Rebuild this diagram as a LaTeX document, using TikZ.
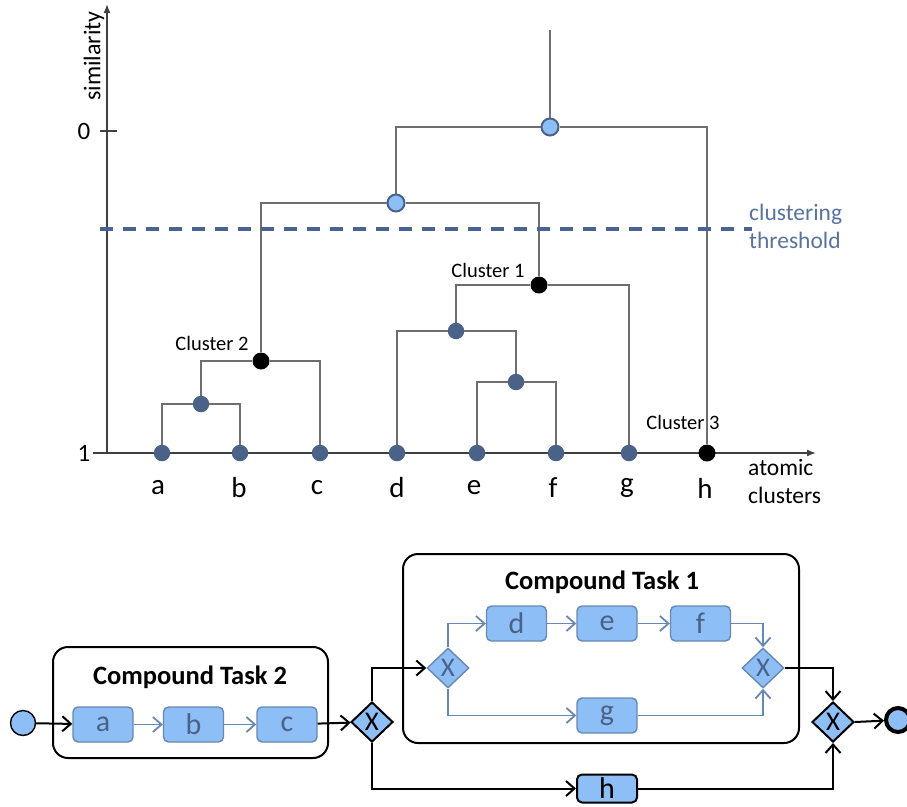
\documentclass[tikz,border=0pt]{standalone}
\usepackage{fontspec}
\setmainfont{Carlito}
\usetikzlibrary{arrows.meta,shapes.geometric}
\definecolor{nodeblue}{HTML}{4A6287}
\definecolor{lightblue}{HTML}{8DBEF5}
\definecolor{thrblue}{HTML}{4A6390}
\definecolor{thrtext}{HTML}{5873A0}
\definecolor{lgray}{HTML}{6E6E6E}
\definecolor{flowblue}{HTML}{6888B4}
\definecolor{tasktext}{HTML}{4A6287}
\newcommand\fsz[2]{\fontsize{#1pt}{#2pt}\selectfont}
\tikzset{
  leaf/.style={circle,fill=nodeblue,inner sep=0pt,minimum size=16.5pt},
  lbnode/.style={circle,fill=lightblue,draw=nodeblue,line width=2pt,inner sep=0pt,minimum size=17pt},
  blknode/.style={circle,fill=black,inner sep=0pt,minimum size=17pt},
  dline/.style={draw=lgray,line width=1.4pt},
  axisline/.style={draw=black!75,line width=1.4pt},
  lbl/.style={font=\fsz{29}{32},inner sep=0pt},
  clbl/.style={font=\fsz{20.5}{24},inner sep=0pt},
  thrlbl/.style={font=\fsz{23.5}{28},text=thrtext,align=left,inner sep=0pt},
  compound/.style={draw=black,line width=2pt,rounded corners=15pt},
  ctitle/.style={font=\bfseries\fsz{26.5}{30},inner sep=0pt},
  task/.style={rectangle,rounded corners=5pt,fill=lightblue,draw=flowblue,line width=1.4pt,minimum width=60pt,minimum height=35pt,inner sep=0pt,font=\fsz{30}{32},text=tasktext},
  btask/.style={task,draw=black,line width=2pt,text=black},
  gwblack/.style={diamond,fill=lightblue,draw=black,line width=2pt,minimum width=42pt,minimum height=40pt,inner sep=0pt,font=\fsz{27}{28}},
  gwblue/.style={gwblack,draw=flowblue,line width=1.4pt,text=tasktext},
  blackflow/.style={draw=black,line width=2pt,-{Straight Barb[length=8.5pt,width=15pt,line width=2pt]}},
  blueflow/.style={draw=flowblue,line width=1.6pt,-{Straight Barb[length=8.5pt,width=15pt,line width=1.8pt]}},
}
\begin{document}
\begin{tikzpicture}[x=1pt,y=-1pt]
\useasboundingbox (0,0) rectangle (907,806);
% ---------- dendrogram ----------
% axes
\draw[axisline,-{Latex[length=9pt,width=7pt]}] (107,453) -- (107,4);
\draw[axisline,-{Latex[length=9pt,width=7pt]}] (93,453) -- (816,453);
\draw[axisline] (100,131) -- (117,131);
\node[font=\fsz{25}{28},inner sep=0pt] (lzero) at (84,131) {0};
\node[font=\fsz{25}{28},inner sep=0pt] (lone) at (84,453) {1};
\node[font=\fsz{24}{28},inner sep=0pt,rotate=90] (simlbl) at (94,56) {similarity};
% leaves
\node[leaf] (a) at (162,453) {};
\node[leaf] (b) at (240,453) {};
\node[leaf] (c) at (320,453) {};
\node[leaf] (d) at (397,453) {};
\node[leaf] (e) at (477,453) {};
\node[leaf] (f) at (556,453) {};
\node[leaf] (g) at (629,453) {};
\node[blknode] (h) at (707,453) {};
% internal nodes
\node[leaf] (ab) at (201,404) {};
\node[blknode] (c2) at (261,361) {};
\node[leaf] (ef) at (516,382) {};
\node[leaf] (def) at (456,331) {};
\node[blknode] (c1) at (539,285) {};
\node[lbnode] (lb2) at (396,203) {};
\node[lbnode] (lb1) at (550,127) {};
\coordinate (top) at (550,30);
% cluster labels
\node[clbl] (cl2) at (212,343) {Cluster 2};
\node[clbl] (cl1) at (488,270) {Cluster 1};
\node[clbl] (cl3) at (683,422) {Cluster 3};
% links
\draw[dline] (ab) -| (a);
\draw[dline] (ab) -| (b);
\draw[dline] (c2) -| (ab);
\draw[dline] (c2) -| (c);
\draw[dline] (ef) -| (e);
\draw[dline] (ef) -| (f);
\draw[dline] (def) -| (d);
\draw[dline] (def) -| (ef);
\draw[dline] (c1) -| (def);
\draw[dline] (c1) -| (g);
\draw[dline] (c2) |- (lb2);
\draw[dline] (lb2) -| (c1);
\draw[dline] (lb1) -| (lb2);
\draw[dline] (lb1) -| (h);
\draw[dline] (lb1) -- (top);
% threshold
\draw[draw=thrblue,line width=3.2pt,dash pattern=on 13pt off 10pt] (100,229) -- (752,229);
\node[thrlbl,anchor=west] (thr) at (749,226) {clustering\\threshold};
% leaf labels
\node[lbl] (la) at (158,488) {a};
\node[lbl] (lb) at (239,488) {b};
\node[lbl] (lc) at (317,488) {c};
\node[lbl] (ld) at (397,488) {d};
\node[lbl] (le) at (474,488) {e};
\node[lbl] (lf) at (553,488) {f};
\node[lbl] (lg) at (627,488) {g};
\node[lbl] (lh) at (705,488) {h};
\node[thrlbl,text=black,anchor=west] (atom) at (748,481) {atomic\\clusters};
% ---------- process ----------
\draw[compound] (53,647) rectangle (328,758);
\node[ctitle] (ct2) at (190,677) {Compound Task 2};
\draw[compound] (403,554) rectangle (799,743);
\node[ctitle] (ct1) at (602,582) {Compound Task 1};
\node[circle,fill=lightblue,draw=black,line width=1.4pt,minimum size=25pt,inner sep=0pt] (start) at (23,723) {};
\node[task] (ta) at (103,724.5) {a};
\node[task] (tb) at (193.5,724.5) {b};
\node[task] (tc) at (287,724.5) {c};
\node[task] (td) at (516.5,623.5) {d};
\node[task] (te) at (607,623.5) {e};
\node[task] (tf) at (700.5,623.5) {f};
\node[task] (tg) at (607,715.5) {g};
\node[btask,minimum height=28pt] (th) at (607,788.5) {h};
\node[gwblack] (gw1) at (372,722) {X};
\node[gwblue] (gw2) at (448,668) {X};
\node[gwblue] (gw3) at (763,668) {X};
\node[gwblack] (gw4) at (833,722) {X};
\node[circle,fill=lightblue,draw=black,line width=4pt,minimum size=24pt,inner sep=0pt] (end) at (898,720) {};
\draw[blackflow] (start) -- (ta);
\draw[blueflow] (ta) -- (tb);
\draw[blueflow] (tb) -- (tc);
\draw[blackflow] (tc) -- (gw1);
\draw[blackflow] (gw1.north) |- (gw2.west);
\draw[blackflow] (gw1.south) |- (th.west);
\draw[blueflow] (gw2.north) |- (td.west);
\draw[blueflow] (gw2.south) |- (tg.west);
\draw[blueflow] (td) -- (te);
\draw[blueflow] (te) -- (tf);
\draw[blueflow] (tf.east) -| (gw3.north);
\draw[blueflow] (tg.east) -| (gw3.south);
\draw[blackflow] (gw3.east) -| (gw4.north);
\draw[blackflow] (th.east) -| (gw4.south);
\draw[blackflow] (gw4.east) -- (end);
\end{tikzpicture}
\end{document}
